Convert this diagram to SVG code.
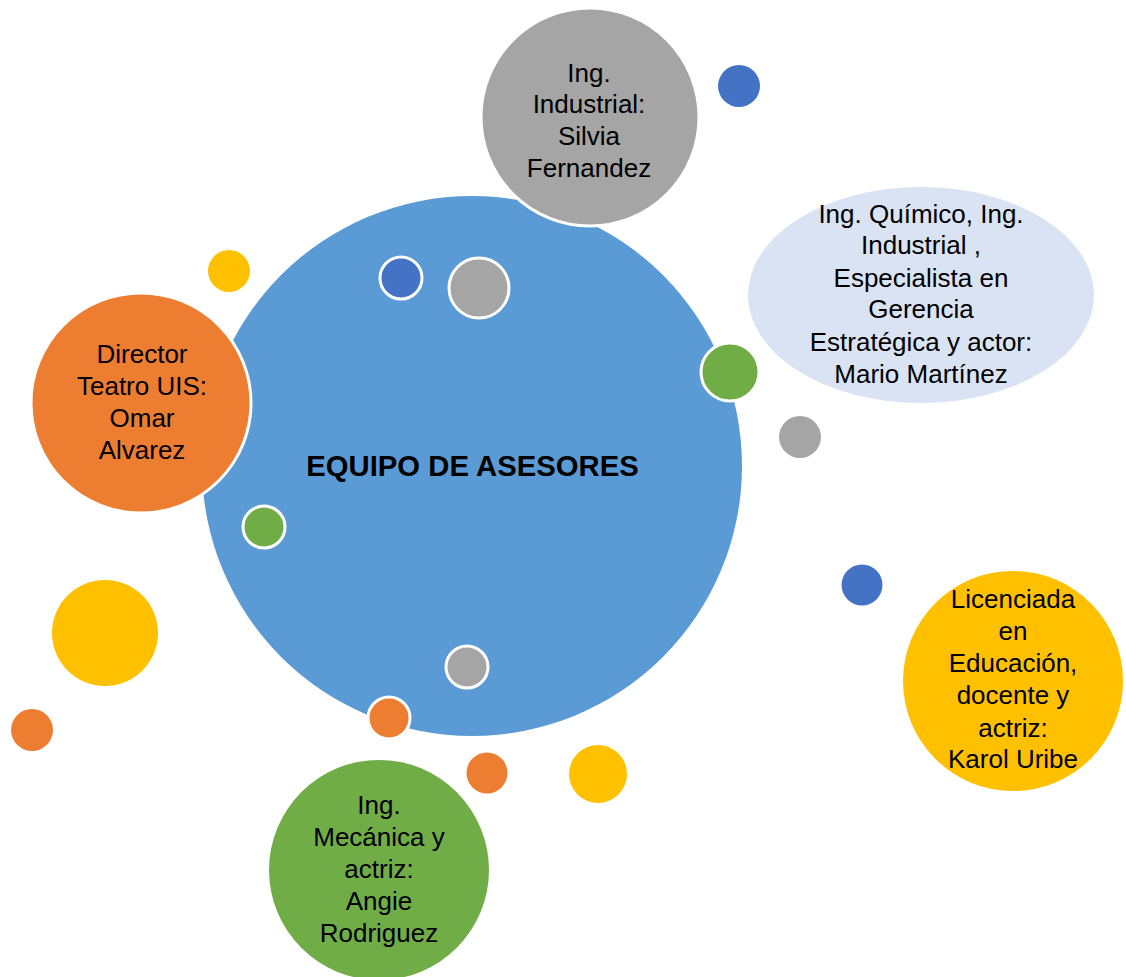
<svg xmlns="http://www.w3.org/2000/svg" width="1126" height="977" viewBox="0 0 1126 977">
<style>
.t{font-family:"Liberation Sans",Arial,sans-serif;font-size:26px;fill:#000;text-anchor:middle}
.title{font-family:"Liberation Sans",Arial,sans-serif;font-size:29.3px;font-weight:bold;fill:#000;text-anchor:middle}
.s{stroke:#fff;stroke-width:3}
.blue{fill:#5B9BD5}.gray{fill:#A5A5A5}.orange{fill:#ED7D31}.yellow{fill:#FFC000}.green{fill:#70AD47}.dblue{fill:#4472C4}.light{fill:#DAE3F3}
</style>
<rect width="1126" height="977" fill="#fff"/>
<g id="connectors"></g>
<g id="center">
<circle class="blue" cx="472" cy="466" r="270"/>
<text class="title" x="472.5" y="476">EQUIPO DE ASESORES</text>
</g>
<g id="silvia">
<circle class="gray s" cx="590" cy="117" r="109"/>
<text class="t" x="589" y="82">Ing.</text>
<text class="t" x="589" y="113">Industrial:</text>
<text class="t" x="589" y="145">Silvia</text>
<text class="t" x="589" y="177">Fernandez</text>
</g>
<g id="mario">
<ellipse class="light" cx="921" cy="295" rx="173" ry="108"/>
<text class="t" x="921" y="223">Ing. Químico, Ing.</text>
<text class="t" x="921" y="254">Industrial ,</text>
<text class="t" x="921" y="287">Especialista en</text>
<text class="t" x="921" y="318">Gerencia</text>
<text class="t" x="921" y="351">Estratégica y actor:</text>
<text class="t" x="921" y="383">Mario Martínez</text>
</g>
<g id="omar">
<circle class="orange s" cx="141" cy="403" r="110"/>
<text class="t" x="142" y="363">Director</text>
<text class="t" x="142" y="395">Teatro UIS:</text>
<text class="t" x="142" y="427">Omar</text>
<text class="t" x="142" y="459">Alvarez</text>
</g>
<g id="karol">
<circle class="yellow" cx="1013" cy="681" r="110"/>
<text class="t" x="1013" y="608">Licenciada</text>
<text class="t" x="1013" y="640">en</text>
<text class="t" x="1013" y="672">Educación,</text>
<text class="t" x="1013" y="704">docente y</text>
<text class="t" x="1013" y="737">actriz:</text>
<text class="t" x="1013" y="768">Karol Uribe</text>
</g>
<g id="angie">
<circle class="green" cx="379" cy="870" r="110"/>
<text class="t" x="379" y="814">Ing.</text>
<text class="t" x="379" y="846">Mecánica y</text>
<text class="t" x="379" y="878">actriz:</text>
<text class="t" x="379" y="910">Angie</text>
<text class="t" x="379" y="942">Rodriguez</text>
</g>
<g id="dots">
<circle class="dblue" cx="739" cy="86" r="21"/>
<circle class="yellow" cx="229" cy="271" r="21"/>
<circle class="dblue s" cx="401" cy="278" r="21"/>
<circle class="gray s" cx="479" cy="288" r="30"/>
<circle class="green s" cx="730" cy="372" r="29"/>
<circle class="gray" cx="800" cy="437" r="21"/>
<circle class="green s" cx="264" cy="527" r="21"/>
<circle class="dblue" cx="862" cy="585" r="20.5"/>
<circle class="yellow" cx="105" cy="633" r="53"/>
<circle class="gray s" cx="467" cy="667" r="21"/>
<circle class="orange s" cx="389" cy="718" r="21"/>
<circle class="orange" cx="32" cy="730" r="21"/>
<circle class="orange" cx="487" cy="773" r="20.5"/>
<circle class="yellow" cx="598" cy="774" r="29"/>
</g>
</svg>
